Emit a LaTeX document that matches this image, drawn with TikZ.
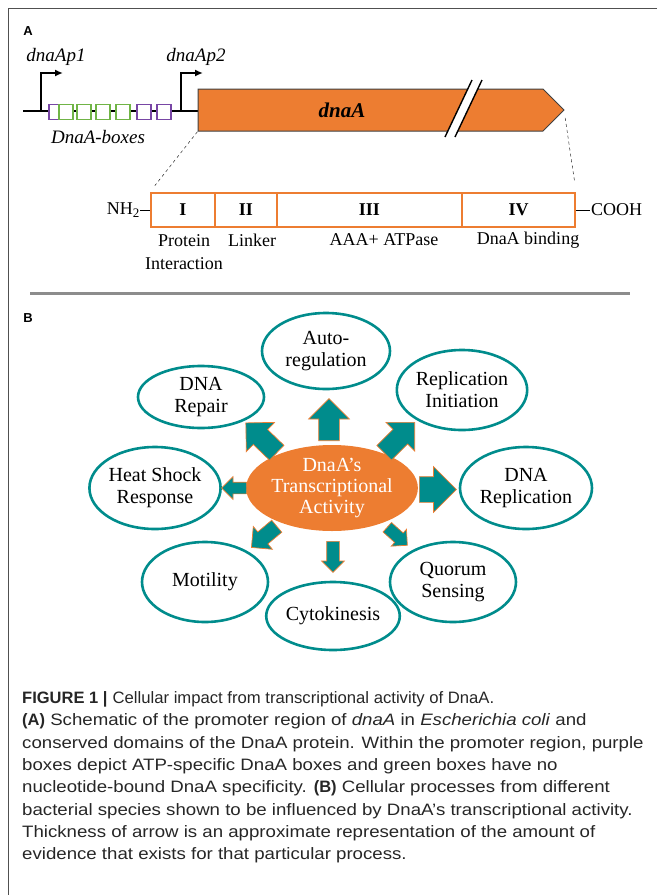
\documentclass[tikz,border=0pt]{standalone}
\usepackage{fontspec}
\setmainfont{Liberation Serif}
\setsansfont{Liberation Sans}
\newfontfamily\capfont[FakeStretch=1.13]{Liberation Sans}
\newfontfamily\titlefont[FakeStretch=1.01]{Liberation Sans}
\usetikzlibrary{shapes.geometric,shapes.arrows,arrows.meta}
\definecolor{dnaorange}{RGB}{237,125,49}
\definecolor{dnateal}{RGB}{0,140,140}
\definecolor{boxgreen}{RGB}{112,180,70}
\definecolor{boxpurple}{RGB}{120,70,165}
\definecolor{framegray}{RGB}{80,80,80}
\definecolor{rulegray}{RGB}{140,140,140}
\tikzset{
  process/.style={ellipse,draw=dnateal,line width=2.6pt,fill=white,inner sep=0pt,
    align=center,font=\fontsize{20}{22}\selectfont},
  effect/.style n args={3}{single arrow,draw=dnaorange,line width=0.7pt,fill=dnateal,
    inner xsep=0pt,inner ysep=#2,minimum width=0pt,minimum height=#1,
    single arrow head extend=#3,anchor=tail},
  dnabox/.style={draw=#1,fill=white,line width=1.2pt,minimum width=14pt,minimum height=15pt,inner sep=0pt},
  domainbox/.style={draw=dnaorange,line width=2.2pt,minimum height=34pt,inner sep=0pt,
    font=\bfseries\fontsize{18}{22}\selectfont},
  itlabel/.style={font=\itshape\fontsize{19}{22}\selectfont},
  plainlabel/.style={font=\fontsize{18}{23}\selectfont,align=center},
  promoter/.style={line width=1.8pt,-{Latex[length=8pt,width=7pt]}},
  panel/.style={font=\sffamily\bfseries\fontsize{13}{15}\selectfont}
}
\begin{document}
\begin{tikzpicture}[x=1pt,y=-1pt]
\useasboundingbox (0,0) rectangle (657,895);
\coordinate (frameR) at (657,8.5);
\coordinate (frameC) at (8.5,8.5);
\coordinate (frameB) at (8.5,895);
\draw[framegray,line width=1.6pt] (frameR) -- (frameC) -- (frameB);
\node[panel] (labA) at (28,31) {A};
\node[panel] (labB) at (28,318) {B};
\coordinate (dnaL) at (23,111);
\coordinate (p1) at (41,111);
\coordinate (p2) at (181,111);
\coordinate (geneL) at (198,111);
\draw[line width=1.8pt] (dnaL) -- (geneL);
\draw[promoter] (p1) |- ++(22,-38);
\draw[promoter] (p2) |- ++(22,-38);
\node[itlabel] (p1lab) at (56,57) {dnaAp1};
\node[itlabel] (p2lab) at (196,57) {dnaAp2};
\node[dnabox=boxpurple] (box1) at (56,112) {};
\node[dnabox=boxgreen] (box2) at (66,112) {};
\node[dnabox=boxgreen] (box3) at (84,112) {};
\node[dnabox=boxgreen] (box4) at (103,112) {};
\node[dnabox=boxgreen] (box5) at (123,112) {};
\node[dnabox=boxpurple] (box6) at (144,112) {};
\node[dnabox=boxpurple] (box7) at (164,112) {};
\node[itlabel] (boxlab) at (98,137) {DnaA-boxes};
\coordinate (g1) at (198,89);
\coordinate (g2) at (543,89);
\coordinate (gtip) at (564,110);
\coordinate (g3) at (543,131);
\coordinate (g4) at (198,131);
\draw[fill=dnaorange,draw=black!75,line width=1pt] (g1) -- (g2) -- (gtip) -- (g3) -- (g4) -- cycle;
\node[font=\bfseries\itshape\fontsize{21}{24}\selectfont] (genelab) at (342,110) {dnaA};
\coordinate (brk1) at (445,137);
\coordinate (brk2) at (472,80);
\coordinate (brk3) at (482,80);
\coordinate (brk4) at (455,137);
\fill[white] (brk1) -- (brk2) -- (brk3) -- (brk4) -- cycle;
\draw[line width=1.4pt] (brk1) -- (brk2);
\draw[line width=1.4pt] (brk4) -- (brk3);
\node[domainbox,minimum width=64pt] (dI) at (183,210) {I};
\node[domainbox,minimum width=62pt] (dII) at (246,210) {II};
\node[domainbox,minimum width=185pt] (dIII) at (369.5,210) {III};
\node[domainbox,minimum width=113pt] (dIV) at (518.5,210) {IV};
\draw[dashed,thin,shorten <=1pt,shorten >=8pt] (g4) -- (dI.north west);
\draw[dashed,thin,shorten <=8pt,shorten >=10pt] (gtip) -- (dIV.north east);
\coordinate (nhend) at (140,210);
\coordinate (coohend) at (590,210);
\draw[thin] (dI.west) -- (nhend);
\draw[thin] (dIV.east) -- (coohend);
\node[plainlabel,anchor=east,inner sep=0.5pt] (nh) at (nhend) {NH\raisebox{-0.45ex}{\fontsize{13}{15}\selectfont 2}};
\node[plainlabel,anchor=west,inner sep=1pt] (cooh) at (coohend) {COOH};
\node[plainlabel] (lab1) at (184,252) {Protein\\Interaction};
\node[plainlabel] (lab2) at (252,240) {Linker};
\node[plainlabel] (lab3) at (384,240) {AAA+ ATPase};
\node[plainlabel] (lab4) at (528,240) {DnaA binding};
\coordinate (ruleL) at (30,293);
\coordinate (ruleR) at (630,293);
\draw[rulegray,line width=3pt] (ruleL) -- (ruleR);
\node[process,minimum width=128pt,minimum height=76pt] (auto) at (326,351) {Auto-\\regulation};
\node[process,minimum width=126pt,minimum height=62pt] (repair) at (201,397) {DNA\\Repair};
\node[process,minimum width=126pt,minimum height=80pt] (init) at (462,390) {Replication\\Initiation};
\node[process,minimum width=130pt,minimum height=82pt] (heat) at (155,488) {Heat Shock\\Response};
\node[process,minimum width=132pt,minimum height=82pt] (repl) at (526,488) {DNA\\Replication};
\node[process,minimum width=126pt,minimum height=80pt] (motil) at (205,582) {Motility};
\node[process,minimum width=126pt,minimum height=68pt] (cyto) at (333,616) {Cytokinesis};
\node[process,minimum width=126pt,minimum height=80pt] (quorum) at (453,582) {Quorum\\Sensing};
\node[ellipse,fill=dnaorange,text=white,minimum width=170pt,minimum height=86pt,inner sep=0pt,
  align=center,font=\fontsize{20}{21}\selectfont] (dnaa) at (332,488) {DnaA's\\Transcriptional\\Activity};
\node[effect={42pt}{10pt}{10pt},rotate=90] (toauto) at (329,441) {};
\node[effect={43pt}{10pt}{10pt},rotate=136] (torepair) at (277,453) {};
\node[effect={43pt}{10pt}{10pt},rotate=45] (toinit) at (384,453) {};
\node[effect={37pt}{12.5pt}{10pt},rotate=0] (torepl) at (419,489.5) {};
\node[effect={25pt}{5.5pt}{5.5pt},rotate=180] (toheat) at (247,488) {};
\node[effect={33pt}{7.5pt}{7pt},rotate=220] (tomotil) at (277,526) {};
\node[effect={31pt}{6pt}{5pt},rotate=-90] (tocyto) at (333,541) {};
\node[effect={27pt}{6pt}{5pt},rotate=-42] (toquorum) at (387,527) {};
\node[anchor=north west,align=left,inner sep=0pt,text=black!85,
  font=\capfont\fontsize{16.5}{22.3}\selectfont] (caption) at (22,691.5)
  {{\sffamily\bfseries FIGURE 1 |} {\titlefont Cellular impact from transcriptional activity of DnaA.}\\
  {\sffamily\bfseries (A)} Schematic of the promoter region of \textit{dnaA} in \textit{Escherichia coli} and\\
  conserved domains of the DnaA protein. Within the promoter region, purple\\
  boxes depict ATP-specific DnaA boxes and green boxes have no\\
  nucleotide-bound DnaA specificity. {\sffamily\bfseries (B)} Cellular processes from different\\
  bacterial species shown to be influenced by DnaA’s transcriptional activity.\\
  Thickness of arrow is an approximate representation of the amount of\\
  evidence that exists for that particular process.};
\end{tikzpicture}
\end{document}
